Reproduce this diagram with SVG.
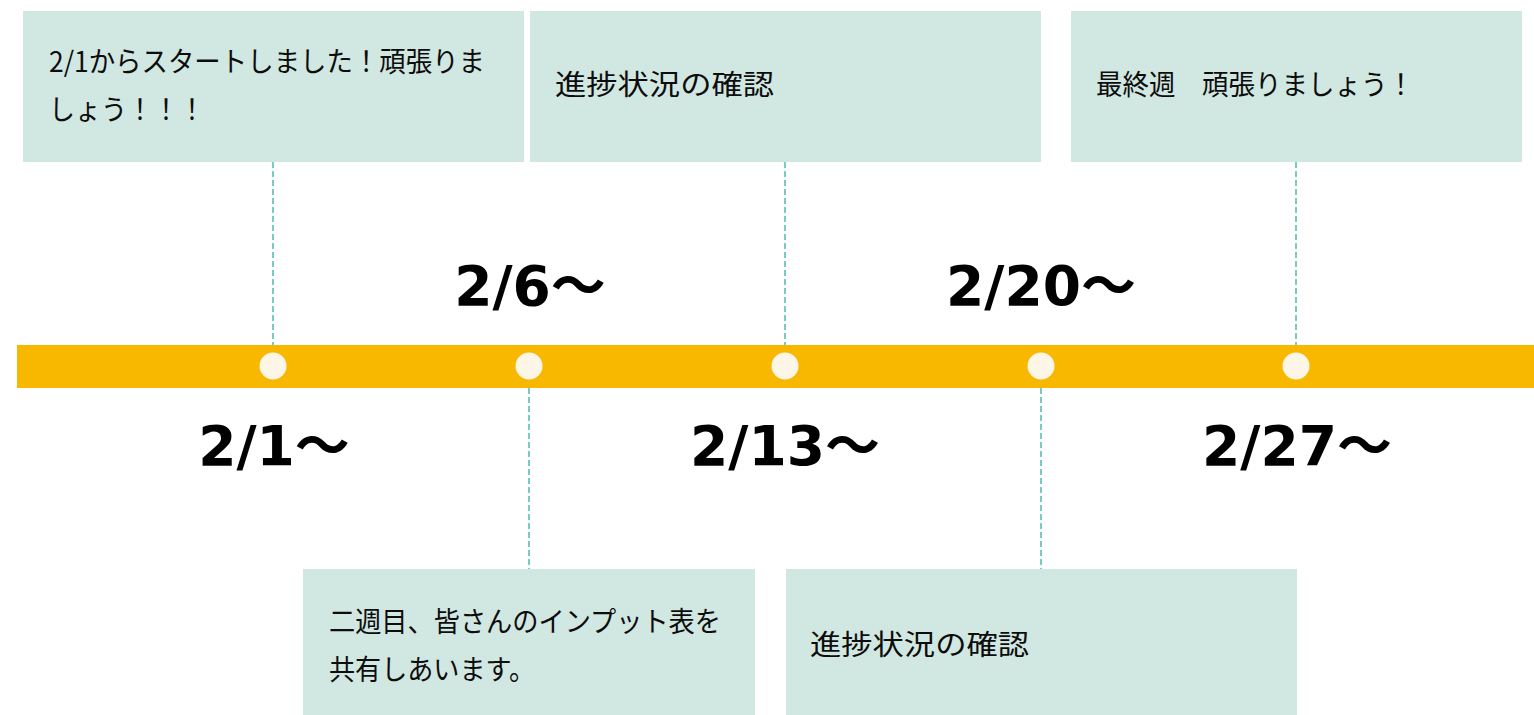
<svg xmlns="http://www.w3.org/2000/svg" width="1534" height="715" viewBox="0 0 1534 715">
<style>
.box{fill:#d1e7e1}
.t{font-family:"Noto Sans CJK JP","Noto Sans",sans-serif;font-size:28px;fill:#0d0d0d}
.d{font-family:"DejaVu Sans","Noto Sans CJK JP",sans-serif;font-size:55px;font-weight:bold;fill:#000;text-anchor:middle}
.c{stroke:#4dbdac;stroke-width:1.5;stroke-dasharray:6 3;fill:none}
.dot{fill:#fdf6e6}
</style>
<rect width="1534" height="715" fill="#fff"/>
<g id="connectors">
<line class="c" x1="273" y1="162" x2="273" y2="345"/>
<line class="c" x1="785" y1="162" x2="785" y2="345"/>
<line class="c" x1="1296" y1="162" x2="1296" y2="345"/>
<line class="c" x1="529" y1="388" x2="529" y2="569"/>
<line class="c" x1="1041" y1="388" x2="1041" y2="569"/>
</g>
<g id="timeline">
<rect x="17" y="345" width="1517" height="43" fill="#f9b800"/>
<circle class="dot" cx="273" cy="366" r="13.5"/>
<circle class="dot" cx="529" cy="366" r="13.5"/>
<circle class="dot" cx="785" cy="366" r="13.5"/>
<circle class="dot" cx="1041" cy="366" r="13.5"/>
<circle class="dot" cx="1296" cy="366" r="13.5"/>
</g>
<g id="box1">
<rect class="box" x="23" y="11" width="501" height="151"/>
<text class="t" x="49" y="72" textLength="436" lengthAdjust="spacingAndGlyphs">2/1からスタートしました！頑張りま</text>
<text class="t" x="49" y="120" textLength="156" lengthAdjust="spacingAndGlyphs">しょう！！！</text>
</g>
<g id="box2">
<rect class="box" x="530" y="11" width="511" height="151"/>
<text class="t" x="555" y="95" textLength="219" lengthAdjust="spacingAndGlyphs">進捗状況の確認</text>
</g>
<g id="box3">
<rect class="box" x="1071" y="11" width="451" height="151"/>
<text class="t" x="1096" y="95" textLength="318" lengthAdjust="spacingAndGlyphs">最終週　頑張りましょう！</text>
</g>
<g id="box4">
<rect class="box" x="303" y="569" width="452" height="146"/>
<text class="t" x="329" y="632" textLength="392" lengthAdjust="spacingAndGlyphs">二週目、皆さんのインプット表を</text>
<text class="t" x="329" y="680" textLength="206" lengthAdjust="spacingAndGlyphs">共有しあいます。</text>
</g>
<g id="box5">
<rect class="box" x="786" y="569" width="511" height="146"/>
<text class="t" x="810" y="655" textLength="219" lengthAdjust="spacingAndGlyphs">進捗状況の確認</text>
</g>
<g id="dates">
<text class="d" x="274" y="465">2/1～</text>
<text class="d" x="530" y="305">2/6～</text>
<text class="d" x="785" y="465">2/13～</text>
<text class="d" x="1041" y="305">2/20～</text>
<text class="d" x="1297" y="465">2/27～</text>
</g>
</svg>
